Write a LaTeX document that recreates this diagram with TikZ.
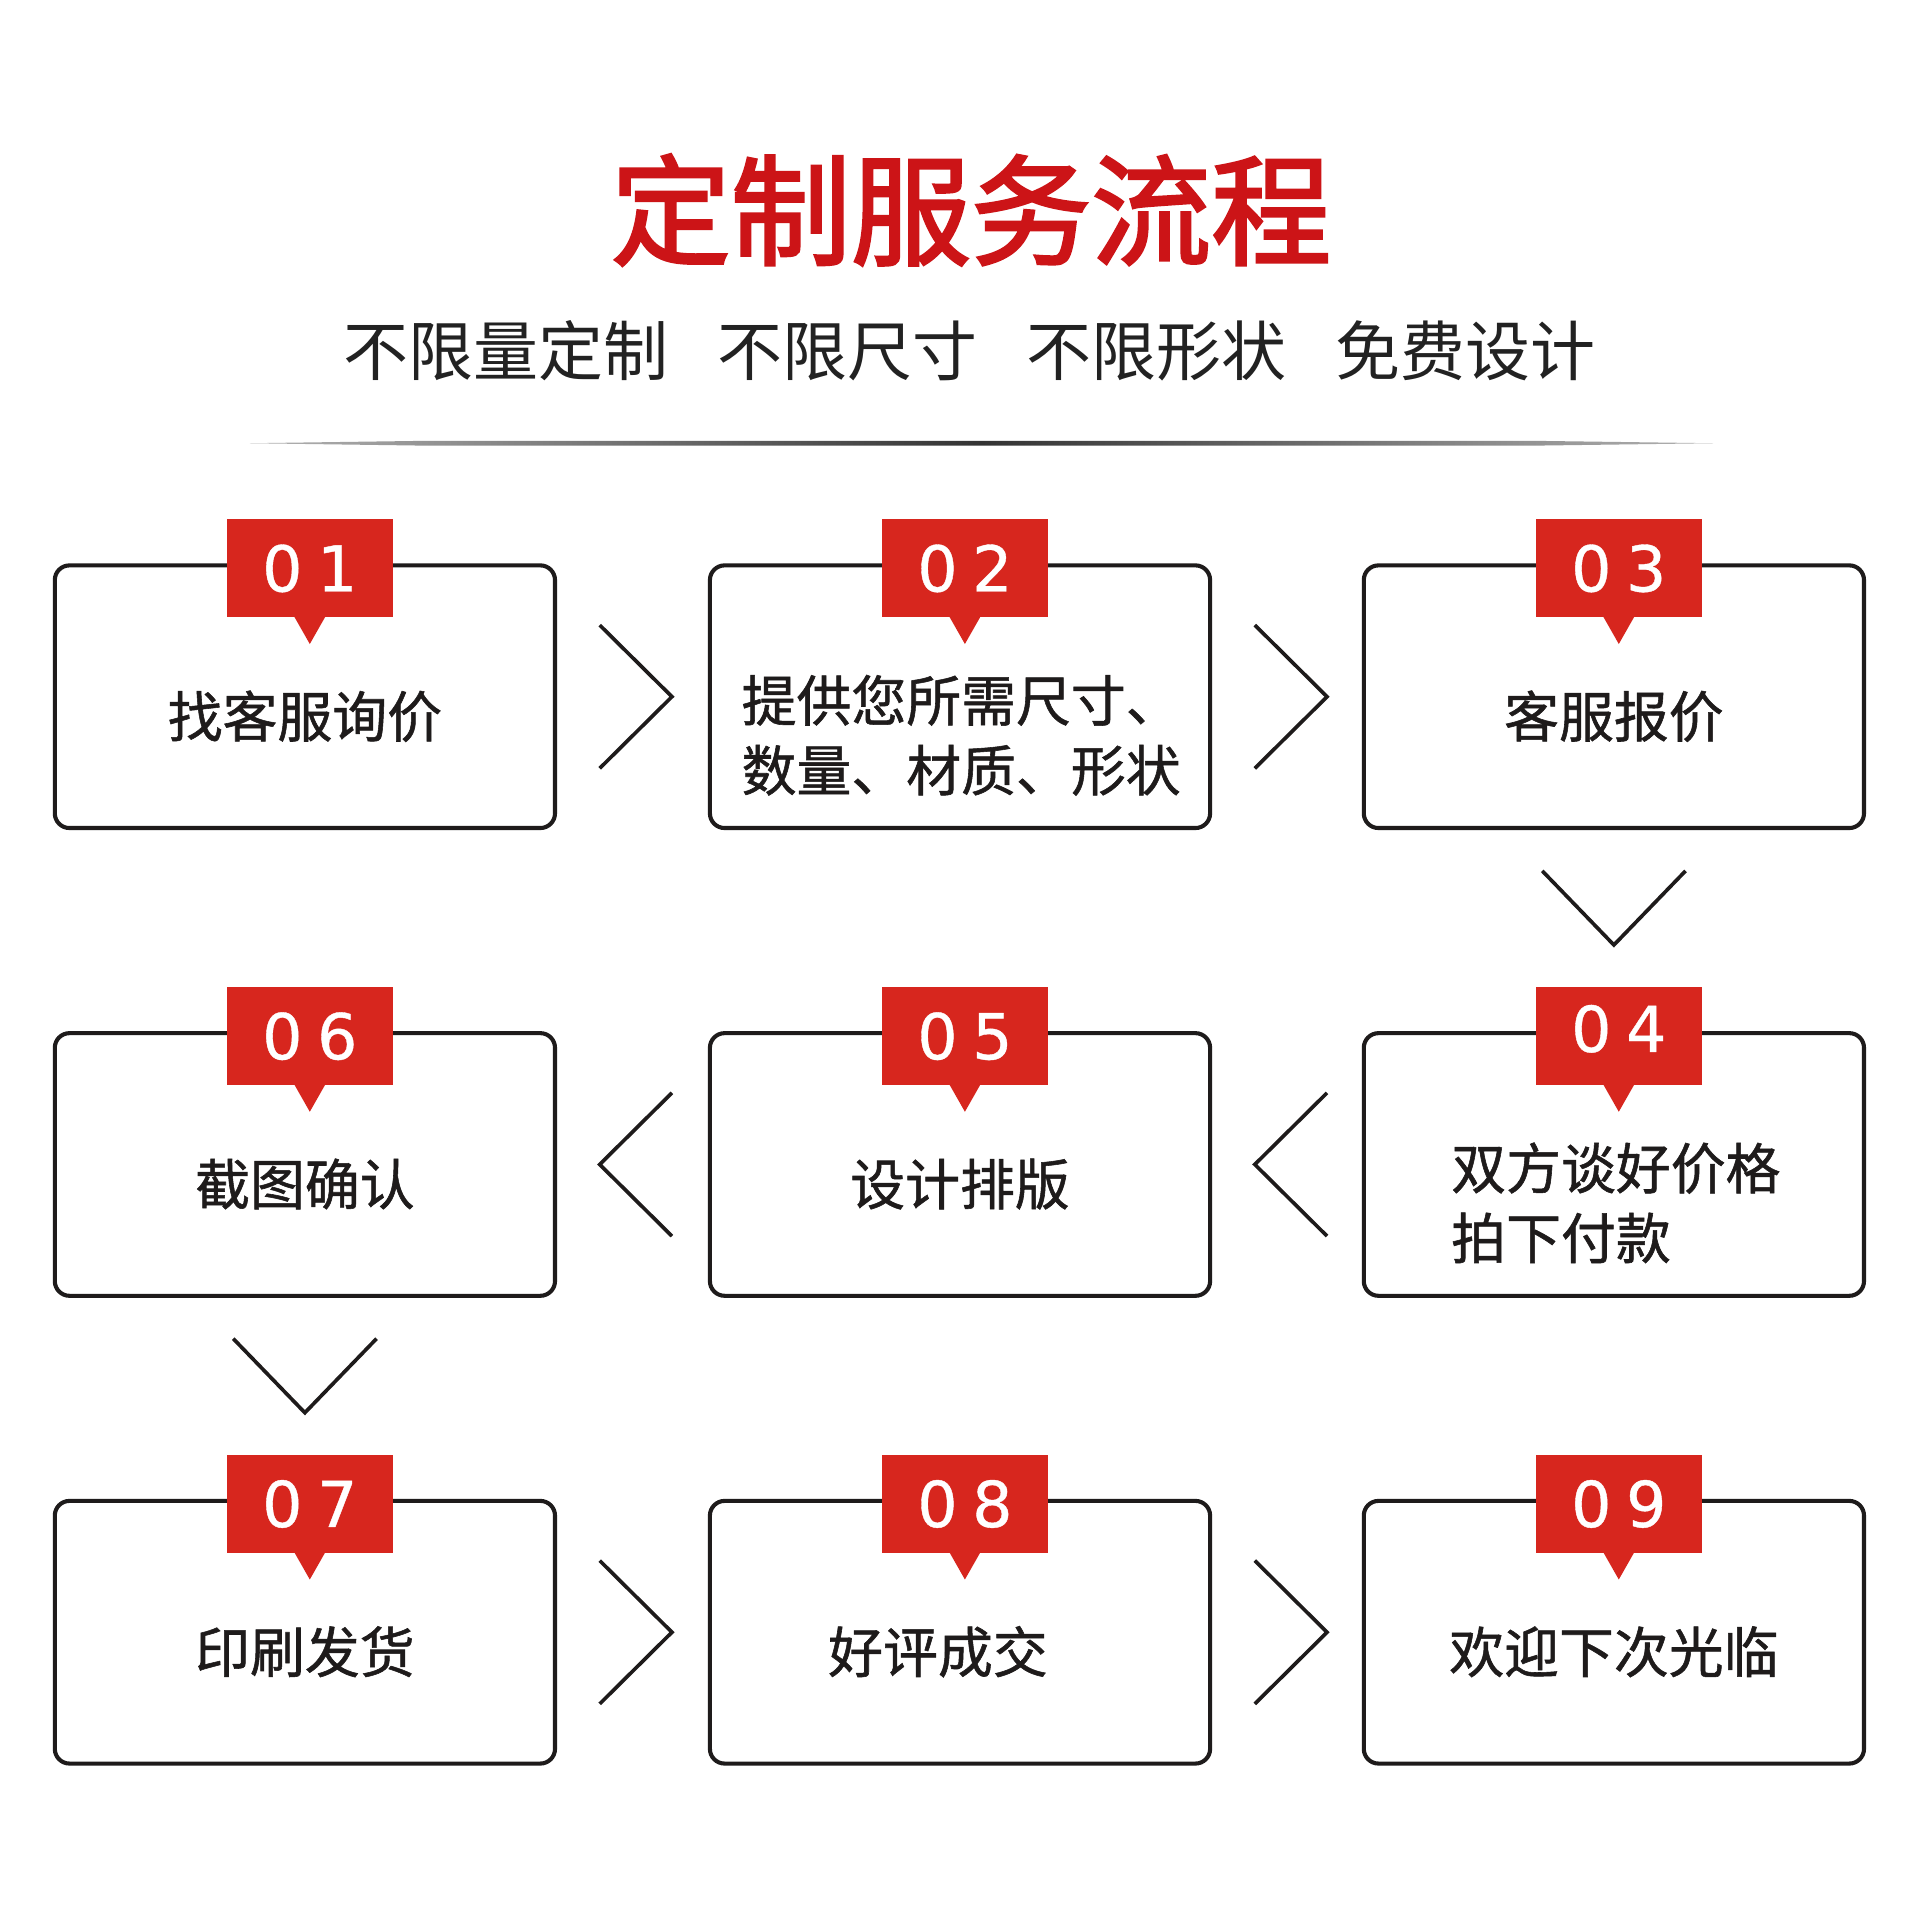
\documentclass[tikz,border=0pt]{standalone}
\usepackage{fontspec}
\usepackage{xcolor}
\usetikzlibrary{calc}
\newfontfamily\cjk{Noto Sans CJK SC}
\newfontfamily\cjkmed{Noto Sans CJK SC}[FakeBold=1]
\newfontfamily\cjkhead{Noto Sans CJK SC}[FakeBold=2.2]
\newfontfamily\numfont{DejaVu Sans}[FakeBold=.6]
\definecolor{FlowRed}{HTML}{D7261E}
\definecolor{TitleRed}{HTML}{CC1417}
\definecolor{FlowInk}{HTML}{1E1B1B}
\definecolor{SubInk}{HTML}{222222}
\newcommand\tabnum[2]{#1\kern.12cm#2}
\newcommand\tabtip[1]{\fill[FlowRed] ($(#1.south)+(-.125,.01)$) -- ($(#1.south)+(0,-.21)$) -- ($(#1.south)+(.125,.01)$) -- cycle;}

\begin{document}
\begin{tikzpicture}[x=1cm,y=1cm,
  stepbox/.style={draw=FlowInk,line width=.95pt,rounded corners=.12cm,minimum width=4.085cm,minimum height=2.145cm,inner sep=0pt,outer sep=0pt},
  numtab/.style={fill=FlowRed,minimum width=1.356cm,minimum height=.8cm,inner sep=0pt,text=white,font=\numfont\fontsize{14.7}{16}\selectfont,text height=.376cm,text depth=0pt},
  steptext/.style={anchor=base,inner sep=0pt,text=FlowInk,font=\cjkmed\fontsize{12.75}{15}\selectfont},
  chev/.style={draw=FlowInk,line width=.85pt}]
\path[use as bounding box] (0,0) rectangle (15.68,15.68);
\fill[white] (0,0) rectangle (15.68,15.68);

% heading
\node[anchor=base,inner sep=0pt,text=TitleRed,font=\cjkhead\fontsize{27.9}{30}\selectfont] (title) at (7.93,13.59) {定制服务流程};
\node[anchor=base,inner sep=0pt,text=SubInk,font=\cjk\fontsize{15.1}{17}\selectfont] (slogan) at (7.92,12.611) {不限量定制\hspace{.40cm}不限尺寸\hspace{.40cm}不限形状\hspace{.40cm}免费设计};
\shade[left color=black!30,right color=black!30,middle color=black!80] (2.04,12.06) -- (3.5,12.08) -- (12.5,12.08) -- (13.99,12.06) -- (12.5,12.04) -- (3.5,12.04) -- cycle;

% boxes
\node[stepbox] (s1) at (2.49,9.99) {};
\node[stepbox] (s2) at (7.84,9.99) {};
\node[stepbox] (s3) at (13.18,9.99) {};
\node[stepbox] (s4) at (13.18,6.17) {};
\node[stepbox] (s5) at (7.84,6.17) {};
\node[stepbox] (s6) at (2.49,6.17) {};
\node[stepbox] (s7) at (2.49,2.35) {};
\node[stepbox] (s8) at (7.84,2.35) {};
\node[stepbox] (s9) at (13.18,2.35) {};

% number tabs
\node[numtab] (t1) at ($(s1.north)+(.04,-.025)$) {\tabnum01};
\node[numtab] (t2) at ($(s2.north)+(.04,-.025)$) {\tabnum02};
\node[numtab] (t3) at ($(s3.north)+(.04,-.025)$) {\tabnum03};
\node[numtab,text depth=.12cm] (t4) at ($(s4.north)+(.04,-.025)$) {\tabnum04};
\node[numtab] (t5) at ($(s5.north)+(.04,-.025)$) {\tabnum05};
\node[numtab] (t6) at ($(s6.north)+(.04,-.025)$) {\tabnum06};
\node[numtab] (t7) at ($(s7.north)+(.04,-.025)$) {\tabnum07};
\node[numtab] (t8) at ($(s8.north)+(.04,-.025)$) {\tabnum08};
\node[numtab] (t9) at ($(s9.north)+(.04,-.025)$) {\tabnum09};
\tabtip{t1} \tabtip{t2} \tabtip{t3}
\tabtip{t4} \tabtip{t5} \tabtip{t6}
\tabtip{t7} \tabtip{t8} \tabtip{t9}

% step texts
\node[steptext] (l1) at ($(s1.center)+(0,-.33)$) {找客服询价};
\node[steptext,anchor=base west] (l2a) at ($(s2.center)+(-1.79,-.20)$) {提供您所需尺寸、};
\node[steptext,anchor=base west] (l2b) at ($(s2.center)+(-1.79,-.77)$) {数量、材质、形状};
\node[steptext] (l3) at ($(s3.center)+(0,-.33)$) {客服报价};
\node[steptext,anchor=base west] (l4a) at ($(s4.center)+(-1.335,-.20)$) {双方谈好价格};
\node[steptext,anchor=base west] (l4b) at ($(s4.center)+(-1.335,-.77)$) {拍下付款};
\node[steptext] (l5) at ($(s5.center)+(0,-.33)$) {设计排版};
\node[steptext] (l6) at ($(s6.center)+(0,-.33)$) {截图确认};
\node[steptext] (l7) at ($(s7.center)+(0,-.33)$) {印刷发货};
\node[steptext] (l8) at ($(s8.center)+(-.18,-.33)$) {好评成交};
\node[steptext] (l9) at ($(s9.center)+(0,-.33)$) {欢迎下次光临};

% chevrons
\draw[chev] ($(s1.east)+(.365,.585)$) -- ($(s1.east)+(.955,0)$) -- ($(s1.east)+(.365,-.585)$);
\draw[chev] ($(s2.east)+(.365,.585)$) -- ($(s2.east)+(.955,0)$) -- ($(s2.east)+(.365,-.585)$);
\draw[chev] ($(s3.south)+(-.585,-.35)$) -- ($(s3.south)+(0,-.955)$) -- ($(s3.south)+(.585,-.35)$);
\draw[chev] ($(s5.east)+(.955,.585)$) -- ($(s5.east)+(.365,0)$) -- ($(s5.east)+(.955,-.585)$);
\draw[chev] ($(s6.east)+(.955,.585)$) -- ($(s6.east)+(.365,0)$) -- ($(s6.east)+(.955,-.585)$);
\draw[chev] ($(s6.south)+(-.585,-.35)$) -- ($(s6.south)+(0,-.955)$) -- ($(s6.south)+(.585,-.35)$);
\draw[chev] ($(s7.east)+(.365,.585)$) -- ($(s7.east)+(.955,0)$) -- ($(s7.east)+(.365,-.585)$);
\draw[chev] ($(s8.east)+(.365,.585)$) -- ($(s8.east)+(.955,0)$) -- ($(s8.east)+(.365,-.585)$);
\end{tikzpicture}
\end{document}
